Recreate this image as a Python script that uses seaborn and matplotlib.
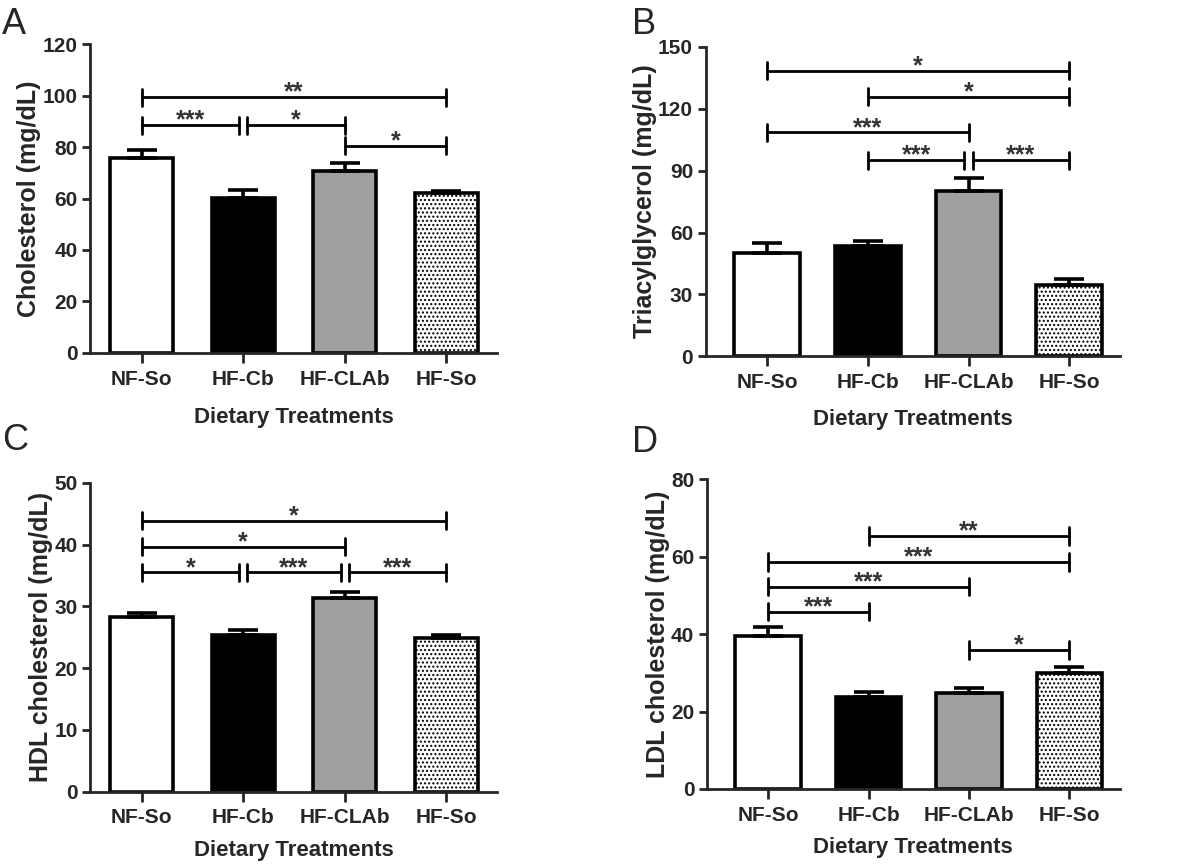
import numpy as np
import matplotlib
matplotlib.use("Agg")
import matplotlib.pyplot as plt
import seaborn as sns

# =========================================================
# DATA
# =========================================================

treatments = ["NF-So", "HF-Cb", "HF-CLAb", "HF-So"]
bar_colors = ["white", "black", "#9f9f9f", "white"]

chol_mean = [75.8, 60.3, 70.8, 62.1]
chol_sem = [3.0, 3.0, 3.1, 1.0]
chol_sig = [(0, 3, 99.4, "**"), (0, 1, 88.5, "***"), (1, 2, 88.5, "*"), (2, 3, 80.6, "*")]

tag_mean = [50.3, 53.5, 80.2, 34.4]
tag_sem = [4.7, 2.4, 6.0, 3.3]
tag_sig = [(0, 3, 138.4, "*"), (1, 3, 125.8, "*"), (0, 2, 108.5, "***"),
           (1, 2, 95.0, "***"), (2, 3, 95.0, "***")]

hdl_mean = [28.3, 25.4, 31.3, 24.8]
hdl_sem = [0.6, 0.7, 1.1, 0.6]
hdl_sig = [(0, 3, 43.9, "*"), (0, 2, 39.7, "*"), (0, 1, 35.5, "*"),
           (1, 2, 35.5, "***"), (2, 3, 35.5, "***")]

ldl_mean = [39.6, 23.9, 24.9, 30.1]
ldl_sem = [2.2, 1.1, 1.3, 1.3]
ldl_sig = [(1, 3, 65.4, "**"), (0, 3, 58.7, "***"), (0, 2, 52.3, "***"),
           (0, 1, 45.8, "***"), (2, 3, 35.9, "*")]

# =========================================================
# STYLE
# =========================================================

sns.set_style("ticks")
plt.rcParams["font.family"] = ["Liberation Sans", "DejaVu Sans"]
plt.rcParams["hatch.color"] = "#666666"
plt.rcParams["hatch.linewidth"] = 1.0

fig = plt.figure(figsize=(12, 8.67), dpi=100)

# letter, y label, means, sem, brackets, ymax, ystep, axes rect, x left, bar width, letter pos, xlabel pad
panels = [
    ("A", "Cholesterol (mg/dL)", chol_mean, chol_sem, chol_sig, 120, 20,
     [0.075, 0.593, 0.339, 0.356], -0.51, 0.62, (0.002, 0.972), 13),
    ("B", "Triacylglycerol (mg/dL)", tag_mean, tag_sem, tag_sig, 150, 30,
     [0.588, 0.589, 0.345, 0.357], -0.61, 0.65, (0.527, 0.972), 12),
    ("C", "HDL cholesterol (mg/dL)", hdl_mean, hdl_sem, hdl_sig, 50, 10,
     [0.075, 0.087, 0.339, 0.356], -0.51, 0.62, (0.002, 0.492), 9),
    ("D", "LDL cholesterol (mg/dL)", ldl_mean, ldl_sem, ldl_sig, 80, 20,
     [0.589, 0.090, 0.344, 0.357], -0.61, 0.65, (0.527, 0.490), 9),
]


def draw_sig(ax, sig, ymax):
    tick = 0.028 * ymax
    ends = {}
    for i, j, y, lab in sig:
        ends.setdefault(y, []).extend([i, j])
    for i, j, y, lab in sig:
        # leave a small gap where two brackets meet at the same height
        x1 = i + (0.04 if ends[y].count(i) > 1 else 0)
        x2 = j - (0.04 if ends[y].count(j) > 1 else 0)
        ax.plot([x1, x2], [y, y], color="black", lw=2)
        ax.plot([x1, x1], [y - tick, y + tick], color="black", lw=2)
        ax.plot([x2, x2], [y - tick, y + tick], color="black", lw=2)
        ax.text((x1 + x2) / 2, y - 0.008 * ymax, lab, ha="center", va="baseline",
                fontsize=18, fontweight="bold", color="#333333")


for letter, ylab, mean, sem, sig, ymax, ystep, pos, xleft, w, lpos, xpad in panels:
    ax = fig.add_axes(pos)
    sns.barplot(x=treatments, y=mean, hue=treatments, palette=bar_colors,
                edgecolor="black", linewidth=2.6, width=w, legend=False,
                errorbar=None, ax=ax, zorder=2)
    ax.patches[3].set_hatch("....")
    ax.errorbar(range(len(treatments)), mean, yerr=[np.zeros(len(sem)), sem],
                fmt="none", ecolor="black", elinewidth=2.6, capsize=11,
                capthick=2.6, zorder=3)
    draw_sig(ax, sig, ymax)

    ax.set_xlim(xleft, 3.5)
    ax.set_ylim(0, ymax)
    ax.set_yticks(np.arange(0, ymax + 1, ystep))
    sns.despine(ax=ax)
    for s in ["left", "bottom"]:
        ax.spines[s].set_linewidth(2)
    ax.tick_params(axis="both", width=2, length=6, labelsize=15, pad=3)
    ax.tick_params(axis="x", length=7, pad=5)
    for t in ax.get_xticklabels() + ax.get_yticklabels():
        t.set_fontweight("bold")
    ax.set_ylabel(ylab, fontsize=18, fontweight="bold", labelpad=1)
    ax.set_xlabel("Dietary Treatments", fontsize=16, fontweight="bold", labelpad=xpad)
    fig.text(lpos[0], lpos[1], letter, fontsize=26, va="center", ha="left")

fig.savefig("out.png", dpi=100)
